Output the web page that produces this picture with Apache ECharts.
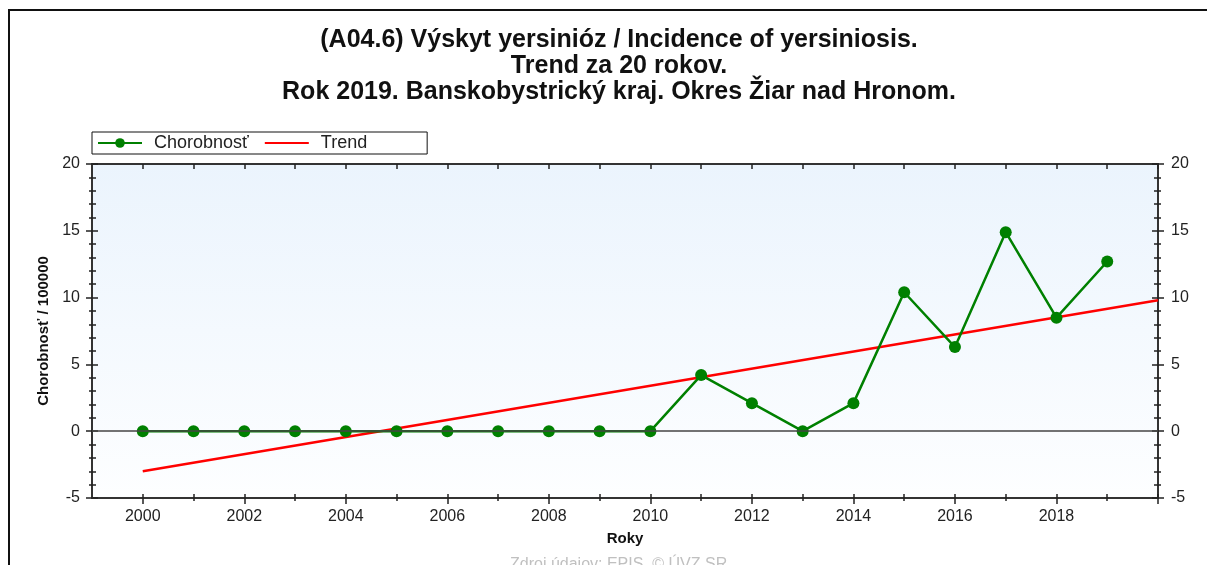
<!DOCTYPE html>
<html>
<head>
<meta charset="utf-8">
<script src="https://cdn.jsdelivr.net/npm/echarts@6/dist/echarts.min.js"></script>
<style>
html,body{margin:0;padding:0;background:#fff;}
#chart{width:1207px;height:565px;}
</style>
</head>
<body>
<div id="chart"></div>
<script>
// hodnoty odčítané z grafu
var years = [2000, 2001, 2002, 2003, 2004, 2005, 2006, 2007, 2008, 2009,
             2010, 2011, 2012, 2013, 2014, 2015, 2016, 2017, 2018, 2019];
var chorobnost = [0, 0, 0, 0, 0, 0, 0, 0, 0, 0,
                  0, 4.2, 2.1, 0, 2.1, 10.4, 6.3, 14.9, 8.5, 12.7];
var trendYears = [2000, 2020];
var trendValues = [-3.0, 9.8];
var evenYears = [2000, 2002, 2004, 2006, 2008, 2010, 2012, 2014, 2016, 2018, 2020];
var oddYears = [2001, 2003, 2005, 2007, 2009, 2011, 2013, 2015, 2017, 2019];
var labelYears = [2000, 2002, 2004, 2006, 2008, 2010, 2012, 2014, 2016, 2018];
var allYears = evenYears.concat(oddYears);

var font = 'Liberation Sans, Arial, sans-serif';
var chart = echarts.init(document.getElementById('chart'));

function xAx(opt) {
    var base = {
        type: 'value', min: 1999, max: 2020, gridIndex: 0,
        axisLine: { show: false, lineStyle: { color: '#333', width: 2 } },
        splitLine: { show: false },
        axisLabel: { show: false },
        axisTick: { show: false }
    };
    return Object.assign(base, opt);
}
function yAx(opt) {
    var base = {
        type: 'value', min: -5, max: 20, interval: 5,
        axisLine: { show: false, lineStyle: { color: '#333', width: 2 } },
        splitLine: { show: false },
        axisLabel: { show: false },
        axisTick: { show: false }
    };
    return Object.assign(base, opt);
}

var tickStyle = { color: '#222', width: 1.5 };

var option = {
    backgroundColor: '#fff',
    animation: false,
    title: {
        text: '(A04.6) Výskyt yersinióz / Incidence of yersiniosis.\nTrend za 20 rokov.\nRok 2019. Banskobystrický kraj. Okres Žiar nad Hronom.',
        left: 614, top: 22, textAlign: 'center',
        textStyle: { fontFamily: font, fontSize: 25, fontWeight: 'bold', color: '#111', lineHeight: 26 }
    },
    legend: {
        left: 92, top: 132,
        padding: [2, 60, 2, 5],
        borderColor: '#111', borderWidth: 1,
        itemWidth: 44, itemHeight: 12, itemGap: 15,
        textStyle: { fontFamily: font, fontSize: 18, color: '#222', padding: [0, 0, 0, 7] },
        data: ['Chorobnosť', { name: 'Trend', itemStyle: { opacity: 0 } }]
    },
    grid: {
        left: 92, right: 49, top: 164, bottom: 67,
        show: true, borderWidth: 0,
        backgroundColor: new echarts.graphic.LinearGradient(0, 0, 0, 1, [
            { offset: 0, color: '#ebf4fd' },
            { offset: 1, color: '#fdfeff' }
        ])
    },
    xAxis: [
        xAx({
            position: 'bottom',
            name: 'Roky', nameLocation: 'middle', nameGap: 33,
            nameTextStyle: { fontFamily: font, fontSize: 15, fontWeight: 'bold', color: '#111' },
            axisLine: { show: true, onZero: false, lineStyle: { color: '#333', width: 2 } },
            axisTick: { show: true, length: 6, customValues: evenYears, lineStyle: tickStyle },
            axisLabel: {
                show: true, margin: 11, customValues: labelYears,
                fontFamily: font, fontSize: 16, color: '#222',
                formatter: function (v) { return String(v); }
            }
        }),
        xAx({ position: 'bottom', axisLine: { show: false, onZero: false },
              axisTick: { show: true, length: 3, customValues: oddYears, lineStyle: tickStyle } }),
        xAx({ position: 'bottom', axisLine: { show: false, onZero: false },
              axisTick: { show: true, inside: true, length: 4, customValues: allYears, lineStyle: tickStyle } }),
        xAx({ position: 'top', axisLine: { show: true, onZero: false, lineStyle: { color: '#333', width: 2 } },
              axisTick: { show: true, inside: true, length: 5, customValues: allYears, lineStyle: tickStyle } })
    ],
    yAxis: [
        yAx({
            position: 'left',
            name: 'Chorobnosť / 100000', nameLocation: 'middle', nameGap: 38,
            nameTextStyle: { fontFamily: font, fontSize: 15, fontWeight: 'bold', color: '#111' },
            axisLine: { show: true, onZero: false, lineStyle: { color: '#333', width: 2 } },
            axisTick: { show: true, length: 6, lineStyle: tickStyle },
            minorTick: { show: true, splitNumber: 5, length: 3, lineStyle: tickStyle },
            axisLabel: { show: true, margin: 12, fontFamily: font, fontSize: 16, color: '#222' }
        }),
        yAx({ position: 'left', axisLine: { show: false, onZero: false },
              axisTick: { show: true, inside: true, length: 6, lineStyle: tickStyle },
              minorTick: { show: true, splitNumber: 5, length: 4, lineStyle: tickStyle } }),
        yAx({
            position: 'right',
            axisLine: { show: true, onZero: false, lineStyle: { color: '#333', width: 2 } },
            axisTick: { show: true, length: 6, lineStyle: tickStyle },
            minorTick: { show: true, splitNumber: 5, length: 3, lineStyle: tickStyle },
            axisLabel: { show: true, margin: 13, fontFamily: font, fontSize: 16, color: '#222' }
        }),
        yAx({ position: 'right', axisLine: { show: false, onZero: false },
              axisTick: { show: true, inside: true, length: 6, lineStyle: tickStyle },
              minorTick: { show: true, splitNumber: 5, length: 4, lineStyle: tickStyle } })
    ],
    series: [
        {
            name: 'Trend', type: 'line', xAxisIndex: 0, yAxisIndex: 0,
            data: trendYears.map(function (y, i) { return [y, trendValues[i]]; }),
            symbol: 'none', z: 3,
            lineStyle: { color: '#ff0000', width: 2.5 },
            itemStyle: { color: '#ff0000' },
            markLine: {
                silent: true, symbol: 'none', label: { show: false },
                lineStyle: { color: '#444', width: 1.5, type: 'solid' },
                data: [{ yAxis: 0 }]
            }
        },
        {
            name: 'Chorobnosť', type: 'line', xAxisIndex: 0, yAxisIndex: 0,
            data: years.map(function (y, i) { return [y, chorobnost[i]]; }),
            symbol: 'circle', symbolSize: 12, z: 4,
            lineStyle: { color: '#008000', width: 2.5 },
            itemStyle: { color: '#008000' }
        }
    ],
    graphic: [
        {
            type: 'polyline', silent: true,
            shape: { points: [[9, 565], [9, 10], [1207, 10]] },
            style: { stroke: '#111', lineWidth: 2, fill: null }
        },
        {
            type: 'text', left: 510, top: 557, silent: true,
            style: { text: 'Zdroj údajov: EPIS, © ÚVZ SR', fontFamily: font, fontSize: 16, fill: '#c0c0c0' }
        }
    ]
};

chart.setOption(option);
</script>
</body>
</html>
